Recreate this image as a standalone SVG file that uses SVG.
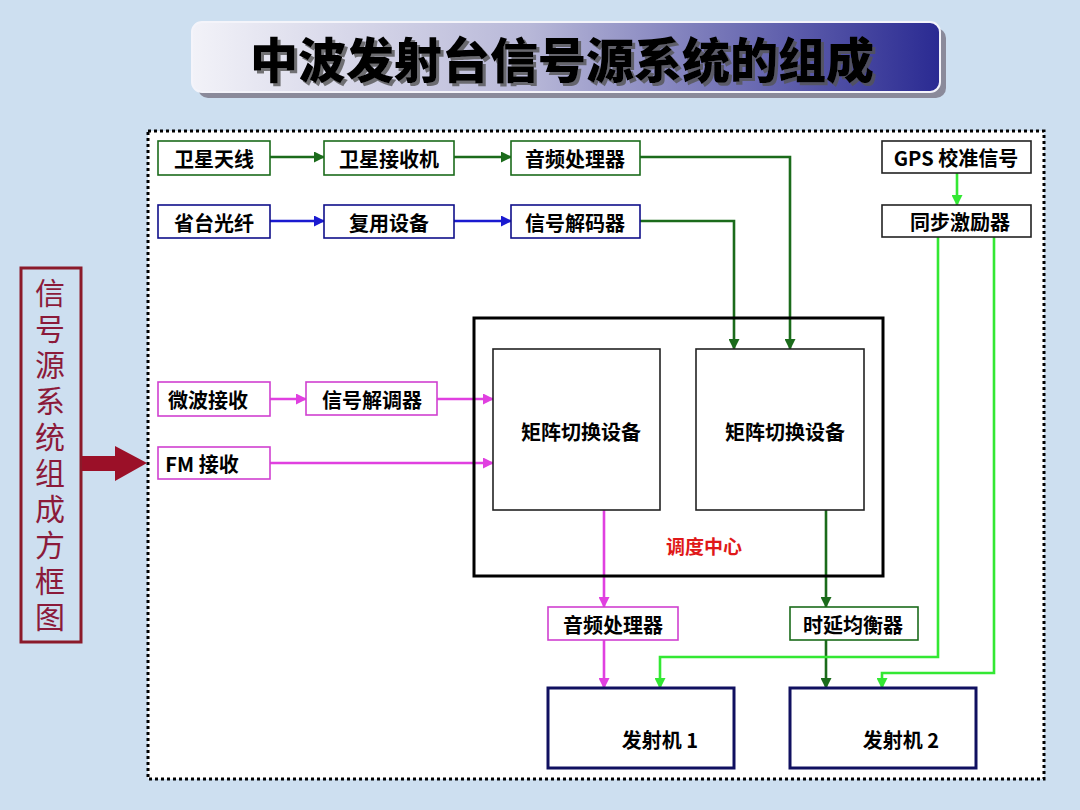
<svg xmlns="http://www.w3.org/2000/svg" width="1080" height="810" viewBox="0 0 1080 810">
<style>
.t{font-family:"Noto Sans CJK SC","Liberation Sans",sans-serif;font-weight:bold;font-size:20px;text-anchor:middle;dominant-baseline:central;fill:#000}
.box{fill:#fff;stroke-width:1.6}
.g{stroke:#1b6b1b}
.b{stroke:#10108a}
.m{stroke:#d040d0}
.k{stroke:#222}
.n{stroke:#101060;stroke-width:3}
.c{fill:none;stroke-width:2.6}
</style>
<defs>
<linearGradient id="tg" x1="0" y1="0" x2="1" y2="0">
<stop offset="0" stop-color="#f2f2f8"/>
<stop offset="0.45" stop-color="#b8b8d8"/>
<stop offset="1" stop-color="#2a2a92"/>
</linearGradient>
<filter id="ts" x="-5%" y="-20%" width="110%" height="140%">
<feDropShadow dx="3" dy="3" stdDeviation="0.5" flood-color="#555" flood-opacity="0.8"/>
</filter>
<marker id="aG" markerWidth="11" markerHeight="11" refX="10" refY="5.5" orient="auto" markerUnits="userSpaceOnUse"><path d="M0,0 L11,5.5 L0,11 Z" fill="#1b6b1b"/></marker>
<marker id="aB" markerWidth="11" markerHeight="11" refX="10" refY="5.5" orient="auto" markerUnits="userSpaceOnUse"><path d="M0,0 L11,5.5 L0,11 Z" fill="#1a1ad0"/></marker>
<marker id="aM" markerWidth="11" markerHeight="11" refX="10" refY="5.5" orient="auto" markerUnits="userSpaceOnUse"><path d="M0,0 L11,5.5 L0,11 Z" fill="#e040e0"/></marker>
<marker id="aL" markerWidth="11" markerHeight="11" refX="10" refY="5.5" orient="auto" markerUnits="userSpaceOnUse"><path d="M0,0 L11,5.5 L0,11 Z" fill="#33e833"/></marker>
</defs>
<rect x="0" y="0" width="1080" height="810" fill="#cddff0"/>
<g id="title">
<rect x="198" y="28" width="748" height="70" rx="10" fill="#8a8a9a"/>
<rect x="192" y="22" width="748" height="70" rx="10" fill="url(#tg)" stroke="#f4f4fa" stroke-width="2"/>
<text x="562" y="57" font-family="'Noto Sans CJK SC',sans-serif" font-weight="900" font-size="48" text-anchor="middle" dominant-baseline="central" fill="#000" filter="url(#ts)">中波发射台信号源系统的组成</text>
</g>
<rect x="148" y="131" width="896" height="648" fill="#fff" stroke="#000" stroke-width="3" stroke-dasharray="3 3"/>
<g id="side-label">
<rect x="21" y="268" width="60" height="374" fill="none" stroke="#8b1a2a" stroke-width="3"/>
<text x="50" y="278" font-family="'Noto Sans CJK SC',sans-serif" font-size="30" fill="#8b1a3a" writing-mode="tb" letter-spacing="6" style="writing-mode:vertical-rl;text-orientation:upright">信号源系统组成方框图</text>
<path d="M82,456 L115,456 L115,446 L147,463 L115,481 L115,471 L82,471 Z" fill="#9b1028"/>
</g>
<g id="connectors">
<line class="c" x1="270" y1="157" x2="324" y2="157" stroke="#1b6b1b" marker-end="url(#aG)"/>
<line class="c" x1="454" y1="157" x2="511" y2="157" stroke="#1b6b1b" marker-end="url(#aG)"/>
<polyline class="c" points="640,157 790,157 790,349" stroke="#1b6b1b" marker-end="url(#aG)"/>
<line class="c" x1="270" y1="221" x2="324" y2="221" stroke="#1a1ad0" marker-end="url(#aB)"/>
<line class="c" x1="454" y1="221" x2="511" y2="221" stroke="#1a1ad0" marker-end="url(#aB)"/>
<polyline class="c" points="640,221 734,221 734,349" stroke="#1b6b1b" marker-end="url(#aG)"/>
<line class="c" x1="957" y1="173" x2="957" y2="205" stroke="#33e833" marker-end="url(#aL)"/>
<line class="c" x1="270" y1="399" x2="306" y2="399" stroke="#e040e0" marker-end="url(#aM)"/>
<line class="c" x1="437" y1="399" x2="493" y2="399" stroke="#e040e0" marker-end="url(#aM)"/>
<line class="c" x1="270" y1="463" x2="493" y2="463" stroke="#e040e0" marker-end="url(#aM)"/>
<line class="c" x1="604" y1="510" x2="604" y2="607" stroke="#e040e0" marker-end="url(#aM)"/>
<line class="c" x1="604" y1="640" x2="604" y2="688" stroke="#e040e0" marker-end="url(#aM)"/>
<line class="c" x1="826" y1="510" x2="826" y2="607" stroke="#1b6b1b" marker-end="url(#aG)"/>
<line class="c" x1="826" y1="640" x2="826" y2="688" stroke="#1b6b1b" marker-end="url(#aG)"/>
<polyline class="c" points="938,237 938,657 660,657 660,688" stroke="#33e833" marker-end="url(#aL)"/>
<polyline class="c" points="994,237 994,673 882,673 882,688" stroke="#33e833" marker-end="url(#aL)"/>
</g>
<g id="n-wxtx"><rect class="box g" x="158" y="141" width="112" height="34"/><text class="t" x="214" y="158">卫星天线</text></g>
<g id="n-wxjsj"><rect class="box g" x="324" y="141" width="130" height="34"/><text class="t" x="389" y="158">卫星接收机</text></g>
<g id="n-ypclq1"><rect class="box g" x="511" y="141" width="129" height="34"/><text class="t" x="575" y="158">音频处理器</text></g>
<g id="n-sdgx"><rect class="box b" x="158" y="205" width="112" height="33"/><text class="t" x="214" y="222">省台光纤</text></g>
<g id="n-fysb"><rect class="box b" x="324" y="205" width="130" height="33"/><text class="t" x="389" y="222">复用设备</text></g>
<g id="n-xhjmq"><rect class="box b" x="511" y="205" width="129" height="33"/><text class="t" x="575" y="222">信号解码器</text></g>
<g id="n-gps"><rect class="box k" x="882" y="141" width="149" height="32"/><text class="t" x="956" y="157">GPS 校准信号</text></g>
<g id="n-tbjlq"><rect class="box k" x="882" y="205" width="149" height="32"/><text class="t" x="960" y="221">同步激励器</text></g>
<g id="n-wbjs"><rect class="box m" x="158" y="382" width="112" height="34"/><text class="t" x="208" y="399">微波接收</text></g>
<g id="n-xhjtq"><rect class="box m" x="306" y="382" width="131" height="33"/><text class="t" x="372" y="399">信号解调器</text></g>
<g id="n-fmjs"><rect class="box m" x="158" y="447" width="112" height="32"/><text class="t" x="202" y="463">FM 接收</text></g>
<g id="n-ddzx">
<rect x="474" y="318" width="409" height="258" fill="none" stroke="#000" stroke-width="3"/>
<text x="704" y="545" font-family="'Noto Sans CJK SC',sans-serif" font-weight="bold" font-size="19" fill="#e01818" text-anchor="middle" dominant-baseline="central">调度中心</text>
</g>
<g id="n-jz1"><rect class="box k" x="493" y="349" width="167" height="161"/><text class="t" x="581" y="431">矩阵切换设备</text></g>
<g id="n-jz2"><rect class="box k" x="696" y="349" width="168" height="161"/><text class="t" x="785" y="431">矩阵切换设备</text></g>
<g id="n-ypclq2"><rect class="box m" x="548" y="607" width="130" height="33"/><text class="t" x="613" y="624">音频处理器</text></g>
<g id="n-sysjhq"><rect class="box g" x="790" y="607" width="128" height="33"/><text class="t" x="853" y="624">时延均衡器</text></g>
<g id="n-fsj1"><rect class="box n" x="548" y="688" width="186" height="80"/><text class="t" x="660" y="739">发射机 1</text></g>
<g id="n-fsj2"><rect class="box n" x="790" y="688" width="186" height="80"/><text class="t" x="901" y="739">发射机 2</text></g>
</svg>
